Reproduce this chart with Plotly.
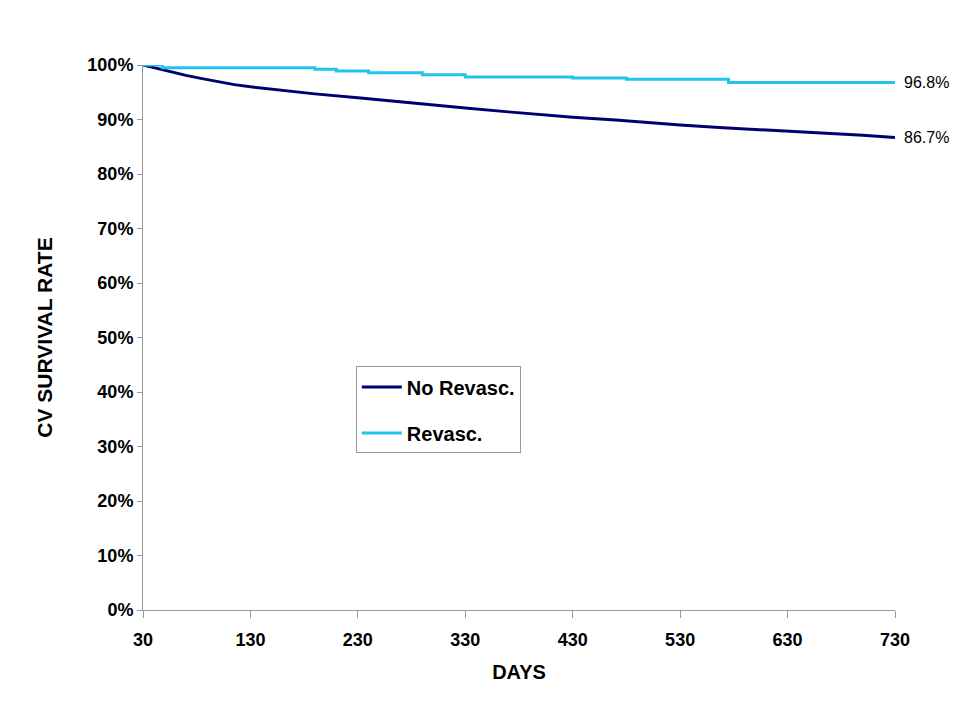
import plotly.graph_objects as go

# Data
no_revasc_days = [30, 40, 55, 70, 85, 100, 115, 130, 160, 190, 230, 260, 300, 330,
                  370, 400, 430, 470, 500, 530, 570, 600, 630, 670, 700, 730]
no_revasc_rate = [100, 99.5, 98.8, 98.1, 97.5, 96.9, 96.4, 96.0, 95.3, 94.7, 94.0, 93.4,
                  92.7, 92.1, 91.4, 90.9, 90.4, 89.9, 89.4, 89.0, 88.5, 88.2, 87.9,
                  87.4, 87.1, 86.7]

revasc_days = [30, 48, 190, 210, 240, 290, 330, 430, 480, 575, 730]
revasc_rate = [100, 99.5, 99.2, 98.9, 98.6, 98.2, 97.8, 97.6, 97.4, 96.8, 96.8]

x_ticks = [30, 130, 230, 330, 430, 530, 630, 730]
y_ticks = [0, 10, 20, 30, 40, 50, 60, 70, 80, 90, 100]
y_tick_labels = ["0%", "10%", "20%", "30%", "40%", "50%", "60%", "70%", "80%", "90%", "100%"]

end_labels = ["86.7%", "96.8%"]

NAVY = "#000070"
CYAN = "#22c4ee"
FONT = "Liberation Sans"

fig = go.Figure()
fig.add_trace(go.Scatter(
    x=no_revasc_days, y=no_revasc_rate, mode="lines", name="No Revasc.",
    line=dict(color=NAVY, width=3), legendgroup="a", cliponaxis=False))
fig.add_trace(go.Scatter(
    x=revasc_days, y=revasc_rate, mode="lines", name="Revasc.",
    line=dict(color=CYAN, width=3, shape="hv"), legendgroup="b", cliponaxis=False))

for y, txt in zip([no_revasc_rate[-1], revasc_rate[-1]], end_labels):
    fig.add_annotation(x=730, y=y, text=txt, showarrow=False, xanchor="left",
                       xshift=7, font=dict(family=FONT, size=16, color="black"))

fig.update_layout(
    width=952, height=712,
    margin=dict(l=135, r=65, t=57, b=110),
    paper_bgcolor="white", plot_bgcolor="white",
    font=dict(family=FONT, color="black"),
    legend=dict(
        x=0.283, y=0.447, xanchor="left", yanchor="top",
        bordercolor="#999999", borderwidth=1, bgcolor="white",
        font=dict(family=FONT, size=20, color="black", weight="bold"),
        tracegroupgap=17, itemwidth=40,
    ),
    xaxis=dict(
        range=[30, 730], tickvals=x_ticks, ticktext=[str(v) for v in x_ticks],
        showgrid=False, zeroline=False, showline=True, linecolor="#999999", linewidth=1,
        ticks="outside", ticklen=7, tickcolor="#999999", ticklabelstandoff=6,
        tickfont=dict(family=FONT, size=18, weight="bold"),
        title=dict(text="DAYS", font=dict(family=FONT, size=20, weight="bold"), standoff=16),
    ),
    yaxis=dict(
        range=[0, 100], tickvals=y_ticks, ticktext=y_tick_labels,
        showgrid=False, zeroline=False, showline=True, linecolor="#999999", linewidth=1,
        ticks="outside", ticklen=5, tickcolor="#999999",
        tickfont=dict(family=FONT, size=18, weight="bold"),
        title=dict(text="CV SURVIVAL RATE", font=dict(family=FONT, size=21, weight="bold"), standoff=29),
    ),
)

fig.write_html("out.html")
